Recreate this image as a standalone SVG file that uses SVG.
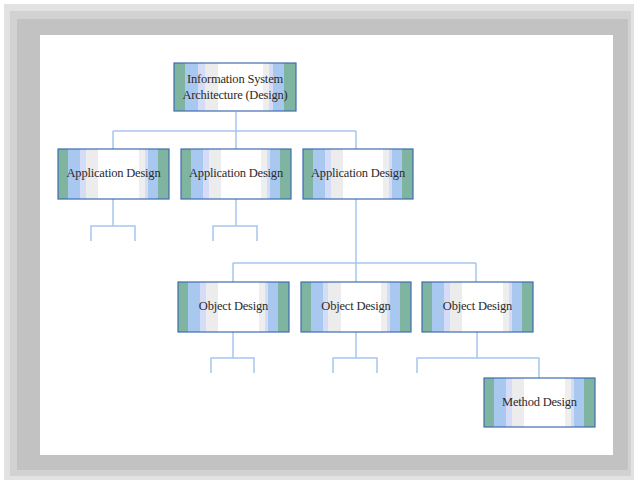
<svg xmlns="http://www.w3.org/2000/svg" width="638" height="483" viewBox="0 0 638 483">
<defs>
<linearGradient id="g" x1="0" y1="0" x2="1" y2="0">
<stop offset="0" stop-color="#7fb5a0"/><stop offset="0.09" stop-color="#7fb5a0"/>
<stop offset="0.09" stop-color="#a8c8f0"/><stop offset="0.2" stop-color="#a8c8f0"/>
<stop offset="0.2" stop-color="#d4dcf8"/><stop offset="0.25" stop-color="#d4dcf8"/>
<stop offset="0.25" stop-color="#ececec"/><stop offset="0.36" stop-color="#ececec"/>
<stop offset="0.36" stop-color="#ffffff"/><stop offset="0.73" stop-color="#ffffff"/>
<stop offset="0.73" stop-color="#eeeeee"/><stop offset="0.78" stop-color="#eeeeee"/>
<stop offset="0.78" stop-color="#d4dcf8"/><stop offset="0.81" stop-color="#d4dcf8"/>
<stop offset="0.81" stop-color="#a8c8f0"/><stop offset="0.9" stop-color="#a8c8f0"/>
<stop offset="0.9" stop-color="#7fb5a0"/><stop offset="1" stop-color="#7fb5a0"/>
</linearGradient>
</defs>
<style>
.box{fill:url(#g);stroke:#3f6cb0;stroke-width:1.2}
.t{font-family:"Liberation Serif","Times New Roman",serif;font-size:12.5px;fill:#2a2a2a;text-anchor:middle;letter-spacing:-0.2px}
.c{fill:none;stroke:#a6c6f0;stroke-width:1.5}
</style>
<rect x="0" y="0" width="638" height="483" fill="#ffffff"/>
<rect x="4" y="4" width="630" height="476" fill="#e2e2e2"/>
<rect x="10" y="11" width="621" height="465" fill="#d2d2d2"/>
<rect x="17" y="19" width="611" height="451" fill="#c2c2c2"/>
<rect x="40" y="35" width="573" height="420" fill="#ffffff"/>
<g id="connectors">
<path class="c" d="M236,112V131M113,131H356M113,131V149M236,131V149M356,131V149"/>
<path class="c" d="M113,199V226M91,241V226H135V241"/>
<path class="c" d="M236,199V226M213,241V226H257V241"/>
<path class="c" d="M356,199V263M233,263H476M233,263V282M356,263V282M476,263V282"/>
<path class="c" d="M233,332V358M211,373V358H254V373"/>
<path class="c" d="M356,332V358M333,373V358H377V373"/>
<path class="c" d="M477,332V358M417,373V358H539V378"/>
</g>
<g id="root"><rect class="box" x="174" y="63" width="122" height="48"/><text class="t" x="235" y="83">Information System</text><text class="t" x="235" y="99">Architecture (Design)</text></g>
<g id="app1"><rect class="box" x="58" y="149" width="111" height="50"/><text class="t" x="113.5" y="177">Application Design</text></g>
<g id="app2"><rect class="box" x="181" y="149" width="110" height="50"/><text class="t" x="236" y="177">Application Design</text></g>
<g id="app3"><rect class="box" x="303" y="149" width="110" height="50"/><text class="t" x="358" y="177">Application Design</text></g>
<g id="obj1"><rect class="box" x="178" y="282" width="111" height="50"/><text class="t" x="233.5" y="310">Object Design</text></g>
<g id="obj2"><rect class="box" x="301" y="282" width="110" height="50"/><text class="t" x="356" y="310">Object Design</text></g>
<g id="obj3"><rect class="box" x="422" y="282" width="111" height="50"/><text class="t" x="477.5" y="310">Object Design</text></g>
<g id="method"><rect class="box" x="484" y="378" width="111" height="49"/><text class="t" x="539.5" y="406">Method Design</text></g>
</svg>
